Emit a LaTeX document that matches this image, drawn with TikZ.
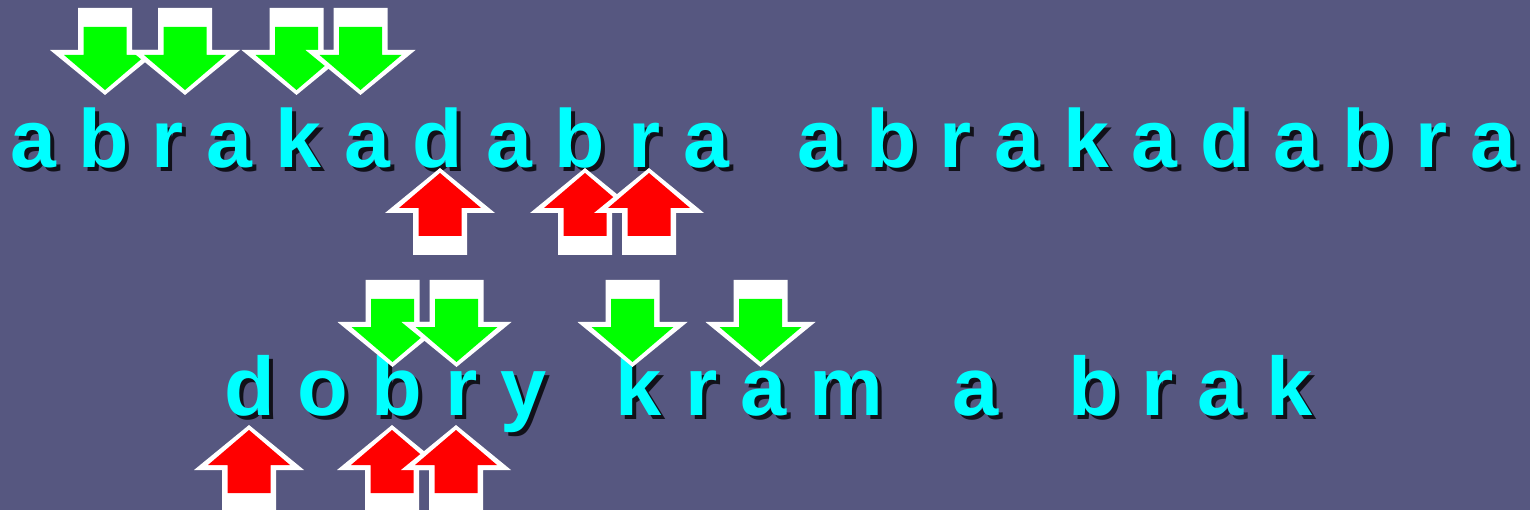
\documentclass[tikz,border=0pt]{standalone}
\usepackage{fontspec}
\setmainfont{Liberation Sans}
\definecolor{bg}{RGB}{86,87,128}
\definecolor{txtcyan}{RGB}{0,255,255}
\definecolor{arrgreen}{RGB}{0,255,0}
\definecolor{arrred}{RGB}{255,0,0}
\tikzset{
  word/.style={font=\fontsize{82.4}{90}\selectfont\bfseries, text=txtcyan, inner sep=0pt, outer sep=0pt, anchor=base west},
  wordtwo/.style={word, font=\fontsize{83}{90}\selectfont\bfseries},
  wordshadow/.style={word, text=black, opacity=0.8},
  wordtwoshadow/.style={wordtwo, text=black, opacity=0.8},
  downarrow/.pic={
    \fill[white] (-27,0) -- (27,0) -- (27,42) -- (55,42) -- (0,87) -- (-55,42) -- (-27,42) -- cycle;
    \fill[arrgreen] (-21.5,19) -- (21.5,19) -- (21.5,47) -- (41,47) -- (0,82) -- (-41,47) -- (-21.5,47) -- cycle;
  },
  uparrow/.pic={
    \fill[white] (0,0) -- (55,45) -- (27,45) -- (27,87) -- (-27,87) -- (-27,45) -- (-55,45) -- cycle;
    \fill[arrred] (0,5) -- (41,40) -- (21.5,40) -- (21.5,68) -- (-21.5,68) -- (-21.5,40) -- (-41,40) -- cycle;
  }
}
\begin{document}
\begin{tikzpicture}[x=1pt,y=-1pt]
\useasboundingbox (0,0) rectangle (1530,510);
\fill[bg] (0,0) rectangle (1530,510);
% row 1
\node[wordshadow] (r1s) at (14,172) {a b r a k a d a b r a\ \ \ a b r a k a d a b r a};
\node[word] (r1) at (10,168) {a b r a k a d a b r a\ \ \ a b r a k a d a b r a};
% row 2
\node[wordtwoshadow] (r2s) at (228,419) {d o b r y\ \ \ k r a m\ \ \ a\ \ \ b r a k};
\node[wordtwo] (r2) at (224,415) {d o b r y\ \ \ k r a m\ \ \ a\ \ \ b r a k};
% top down arrows
\foreach \x in {105,185,296.5,360.5} \pic at (\x,8) {downarrow};
% middle up arrows
\foreach \x in {440,585,649} \pic at (\x,168) {uparrow};
% second row down arrows
\foreach \x in {392.5,456.5,632.5,760.5} \pic at (\x,280) {downarrow};
% bottom up arrows
\foreach \x in {249,392,456} \pic at (\x,425) {uparrow};
\end{tikzpicture}
\end{document}
